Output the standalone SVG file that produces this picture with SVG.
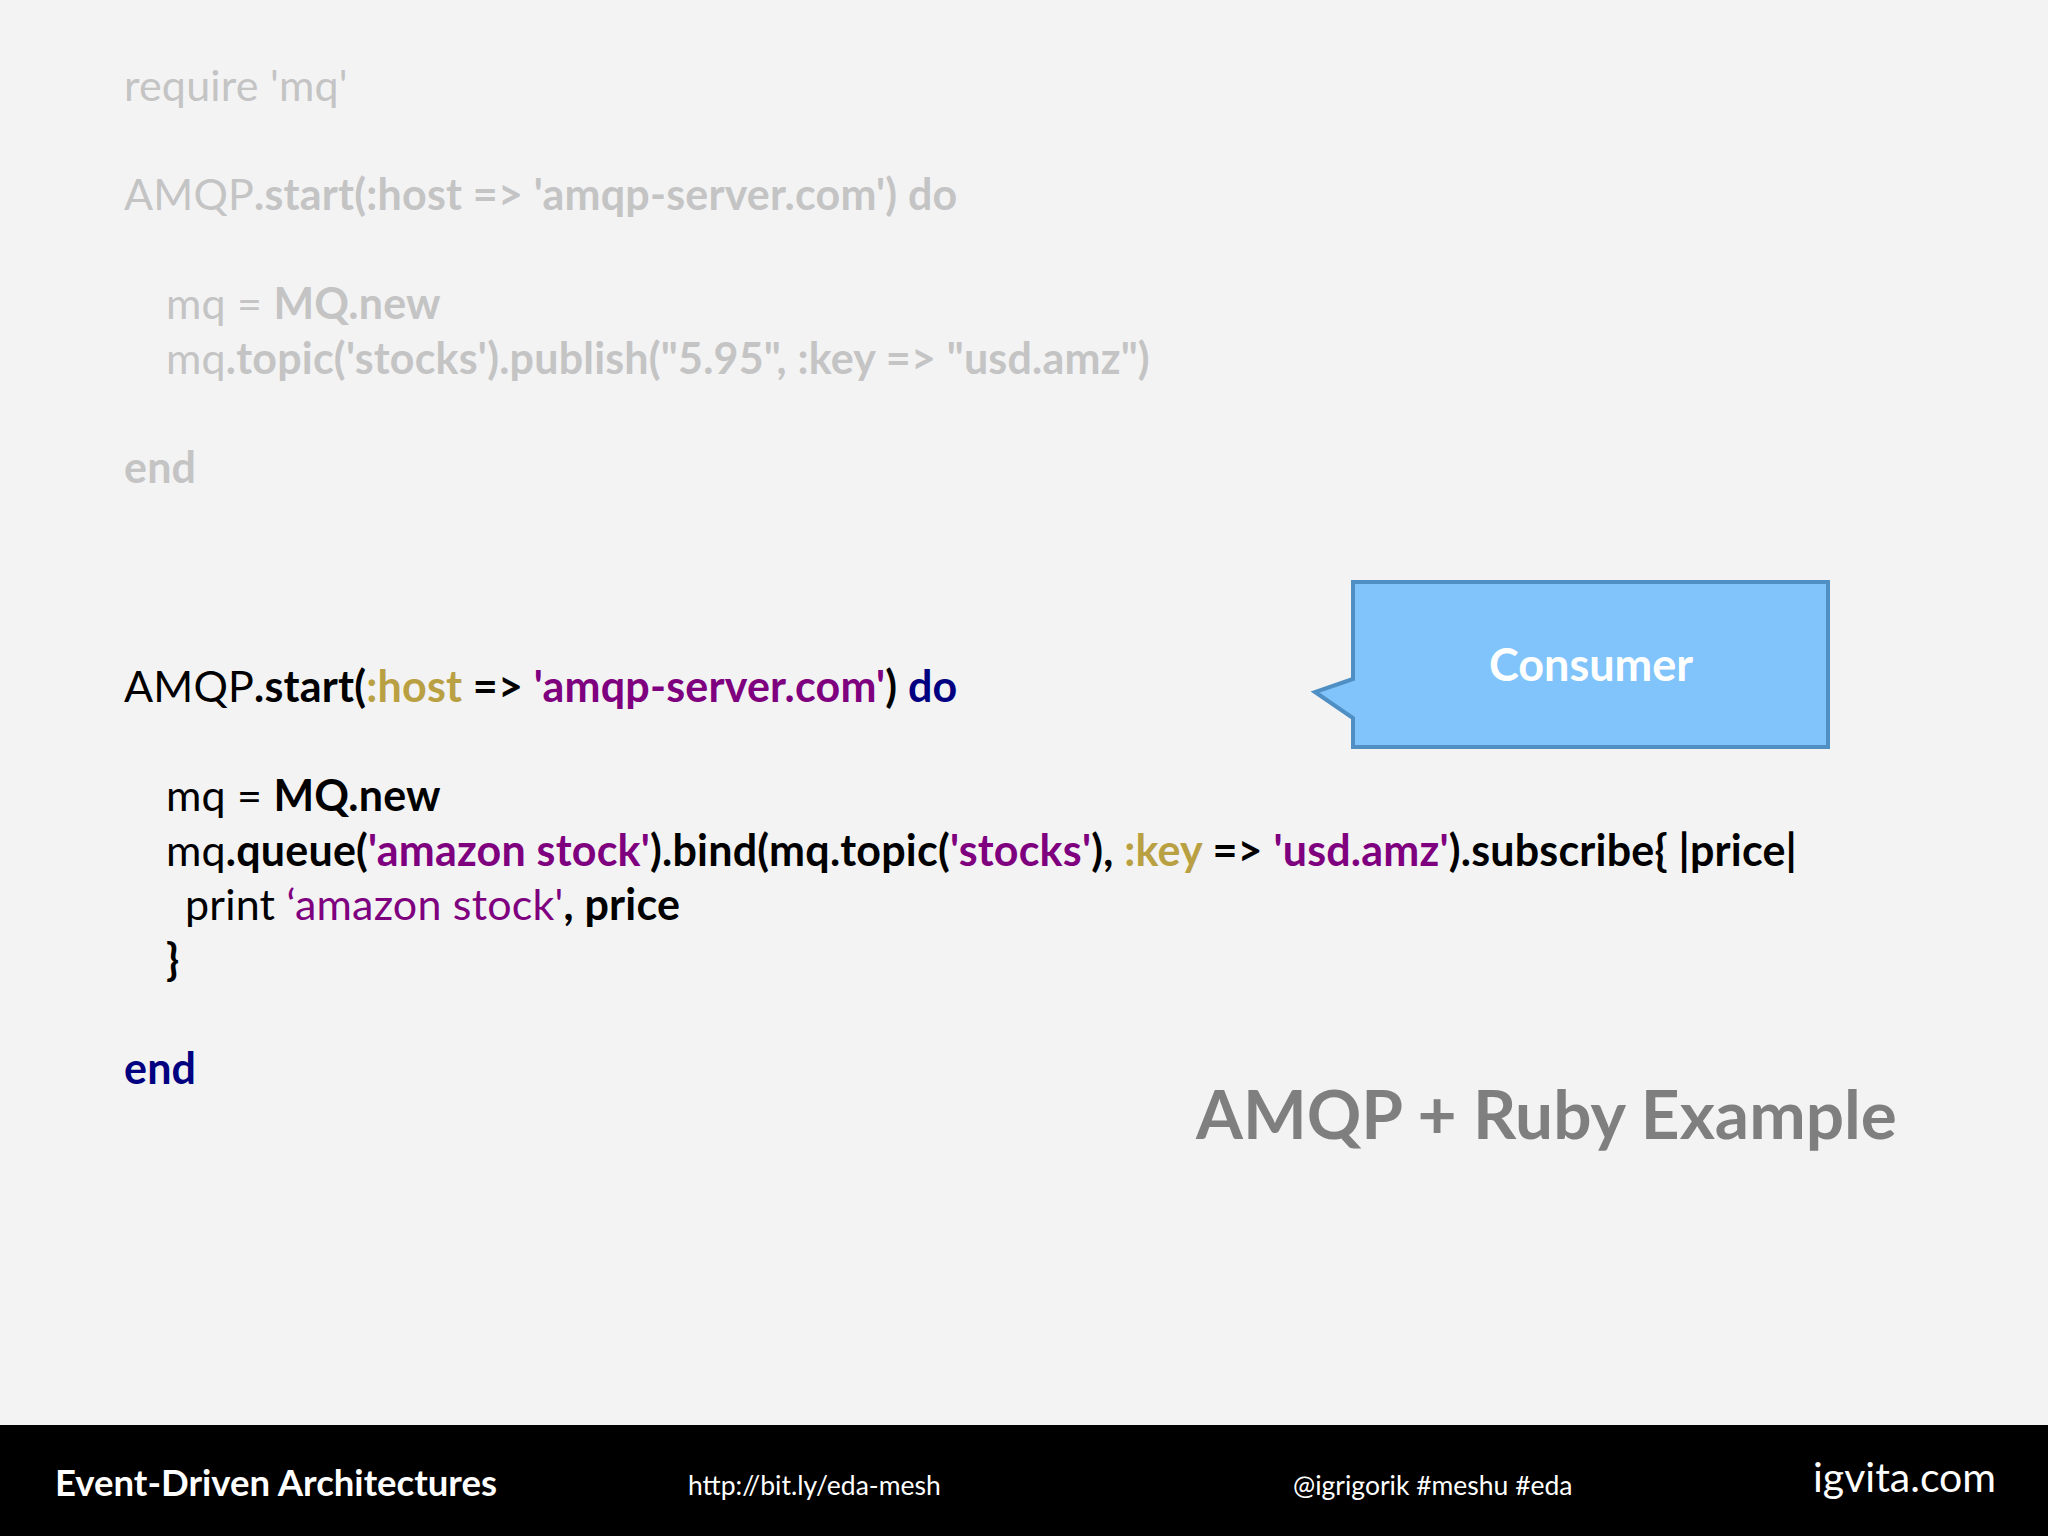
<svg xmlns="http://www.w3.org/2000/svg" width="2048" height="1536" viewBox="0 0 2048 1536">
<style>
.c{font-family:Lato,"Open Sans",sans-serif;font-size:43px;letter-spacing:0.2px}
.f{fill:#c4c4c4}
.k{fill:#000}
.b{font-weight:bold}
.y{fill:#b9a042}
.p{fill:#7f007f}
.n{fill:#000080}
</style>
<rect width="2048" height="1536" fill="#f3f3f4"/>
<g id="faded" class="c f">
<text x="124" y="101">require 'mq'</text>
<text x="124" y="210">AMQP<tspan class="b">.start(:host =&gt; 'amqp-server.com') do</tspan></text>
<text x="166" y="319">mq = <tspan class="b">MQ.new</tspan></text>
<text x="166" y="374">mq<tspan class="b">.topic('stocks').publish("5.95", :key =&gt; "usd.amz")</tspan></text>
<text x="124" y="483" class="b">end</text>
</g>
<g id="code" class="c k">
<text x="124" y="702">AMQP<tspan class="b">.start(<tspan class="y">:host</tspan> =&gt; <tspan class="p">'amqp-server.com'</tspan>) <tspan class="n">do</tspan></tspan></text>
<text x="166" y="811">mq = <tspan class="b">MQ.new</tspan></text>
<text x="166" y="866">mq<tspan class="b">.queue(<tspan class="p">'amazon stock'</tspan>).bind(mq.topic(<tspan class="p">'stocks'</tspan>), <tspan class="y">:key</tspan> =&gt; <tspan class="p">'usd.amz'</tspan>).subscribe{ |price|</tspan></text>
<text x="185" y="920">print <tspan class="p">‘amazon stock'</tspan><tspan class="b">, price</tspan></text>
<text x="166" y="975" class="b">}</text>
<text x="124" y="1084" class="b n">end</text>
</g>
<g id="consumer">
<path d="M1353,582 H1828 V747 H1353 V718 L1315,692 L1353,679 Z" fill="#80c4fb" stroke="#4f8fc4" stroke-width="4"/>
<text x="1591" y="681" text-anchor="middle" font-family="Lato,'Open Sans',sans-serif" font-weight="bold" font-size="45" fill="#fff">Consumer</text>
</g>
<text id="title" x="1196" y="1139" font-family="Lato,'Open Sans',sans-serif" font-weight="bold" font-size="67.5" fill="#7f7f7f">AMQP + Ruby Example</text>
<g id="footer">
<rect x="0" y="1425" width="2048" height="111" fill="#000"/>
<text x="55" y="1496" font-family="Lato,'Open Sans',sans-serif" font-weight="bold" font-size="36.5" fill="#fff">Event-Driven Architectures</text>
<text x="688" y="1495" font-family="Lato,'Open Sans',sans-serif" font-size="26.5" fill="#fff">http://bit.ly/eda-mesh</text>
<text x="1293" y="1495" font-family="Lato,'Open Sans',sans-serif" font-size="26.5" fill="#fff">@igrigorik #meshu #eda</text>
<text x="1813" y="1492" font-family="Lato,'Open Sans',sans-serif" font-size="41" fill="#fff">igvita.com</text>
</g>
</svg>
